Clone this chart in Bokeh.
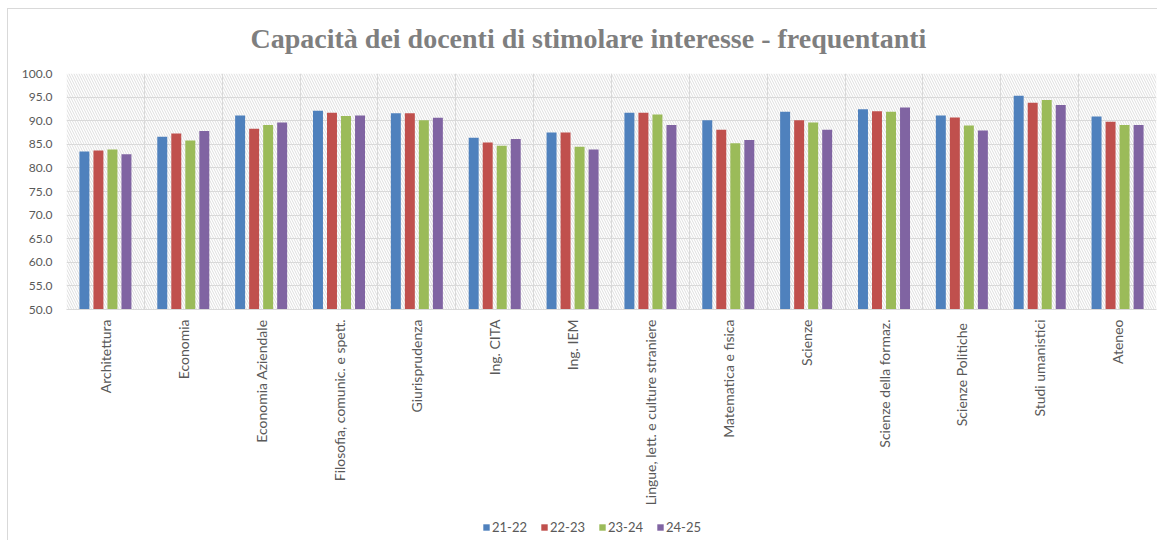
import numpy as np
from bokeh.plotting import figure
from bokeh.layouts import column
from bokeh.models import (ColumnDataSource, FixedTicker, Range1d, Legend, LegendItem,
                          BoxAnnotation, CustomJSTickFormatter)
from bokeh.embed import file_html
from bokeh.resources import INLINE

categories = ["Architettura", "Economia", "Economia Aziendale", "Filosofia, comunic. e spett.",
              "Giurisprudenza", "Ing. CITA", "Ing. IEM", "Lingue, lett. e culture straniere",
              "Matematica e fisica", "Scienze", "Scienze della formaz.", "Scienze  Politiche",
              "Studi umanistici", "Ateneo"]
series_names = ["21-22", "22-23", "23-24", "24-25"]
v_21_22 = [83.5, 86.6, 91.1, 92.1, 91.6, 86.4, 87.5, 91.7, 90.1, 91.9, 92.4, 91.1, 95.3, 90.9]
v_22_23 = [83.7, 87.3, 88.3, 91.7, 91.6, 85.4, 87.5, 91.7, 88.1, 90.1, 92.0, 90.7, 93.8, 89.8]
v_23_24 = [83.9, 85.8, 89.1, 91.0, 90.1, 84.7, 84.5, 91.3, 85.2, 89.6, 91.9, 89.0, 94.4, 89.1]
v_24_25 = [82.9, 87.8, 89.6, 91.1, 90.6, 86.1, 83.9, 89.1, 85.9, 88.1, 92.8, 87.9, 93.3, 89.1]
y_ticks = [50, 55, 60, 65, 70, 75, 80, 85, 90, 95, 100]
colors = ["#4F81BD", "#C0504D", "#9BBB59", "#8064A2"]

series = [v_21_22, v_22_23, v_23_24, v_24_25]
idx = np.arange(len(categories))

p = figure(width=1157, height=515, output_backend="svg", toolbar_location=None,
           x_range=Range1d(0, len(categories)), y_range=Range1d(50, 100),
           min_border_left=66, min_border_right=1, min_border_top=73, min_border_bottom=206)

p.title.text = "Capacità dei docenti di stimolare interesse - frequentanti"
p.title.align = "left"
p.title.offset = 184
p.title.text_font = "Liberation Serif"
p.title.text_font_style = "bold"
p.title.text_font_size = "28px"
p.title.text_color = "#7f7f7f"
p.title.standoff = 40
p.outline_line_color = None
p.background_fill_color = "white"
p.border_fill_color = None

# hatched plot background
p.add_layout(BoxAnnotation(left=0, right=len(categories), bottom=50, top=100,
                           fill_color="white", fill_alpha=1.0, line_color=None,
                           hatch_pattern="\\", hatch_color="#d6d6d6", hatch_scale=5,
                           hatch_weight=0.8, hatch_alpha=1.0, level="image"))

bw = 0.128
step = 0.18
for k, (name, vals, col) in enumerate(zip(series_names, series, colors)):
    src = ColumnDataSource(dict(x=idx + 0.5 + (k - 1.5) * step, top=vals))
    p.vbar(x="x", top="top", bottom=50, width=bw, source=src,
           fill_color=col, line_color=None)

# axes
p.xaxis.ticker = FixedTicker(ticks=list(idx + 0.5))
p.xaxis.major_label_overrides = {float(i + 0.5): c for i, c in enumerate(categories)}
p.xaxis.major_label_orientation = np.pi / 2
p.xaxis.major_label_text_font = "Lato"
p.xaxis.major_label_text_font_size = "14px"
p.xaxis.major_label_text_color = "#595959"
p.xaxis.major_label_standoff = 10
p.xaxis.major_tick_out = 0
p.xaxis.major_tick_in = 0
p.xaxis.axis_line_color = "#d9d9d9"
p.xaxis.major_tick_line_color = None
p.xaxis.minor_tick_line_color = None

p.yaxis.ticker = FixedTicker(ticks=y_ticks)
p.yaxis.formatter = CustomJSTickFormatter(code="return tick.toFixed(1);")
p.yaxis.major_label_text_font = "Lato"
p.yaxis.major_label_text_font_size = "12px"
p.yaxis.major_label_text_color = "#595959"
p.yaxis.major_label_standoff = 14
p.yaxis.major_tick_out = 0
p.yaxis.major_tick_in = 0
p.yaxis.axis_line_color = None
p.yaxis.major_tick_line_color = None
p.yaxis.minor_tick_line_color = None

p.xgrid.ticker = FixedTicker(ticks=list(range(len(categories) + 1)))
p.xgrid.grid_line_color = "#d9d9d9"
p.xgrid.grid_line_width = 1
p.ygrid.ticker = FixedTicker(ticks=y_ticks)
p.ygrid.grid_line_color = "#d9d9d9"
p.ygrid.grid_line_width = 1

# legend strip below the chart (key swatches only; no data drawn here)
leg = figure(width=1157, height=25, output_backend="svg", toolbar_location=None,
             x_range=Range1d(0, 1), y_range=Range1d(0, 1),
             min_border_left=0, min_border_right=0, min_border_top=0, min_border_bottom=0)
leg.axis.visible = False
leg.grid.visible = False
leg.outline_line_color = None
leg.background_fill_color = None
leg.border_fill_color = None
leg_renderers = []
for name, col in zip(series_names, colors):
    key_src = ColumnDataSource(dict(x=[np.nan], top=[np.nan]))
    r = leg.vbar(x="x", top="top", width=0.1, source=key_src, fill_color=col, line_color=None)
    leg_renderers.append(r)
legend = Legend(items=[LegendItem(label=n, renderers=[r], index=0)
                       for n, r in zip(series_names, leg_renderers)],
                orientation="horizontal", location=(416, 5),
                glyph_width=8, glyph_height=8, label_standoff=2, spacing=13,
                padding=0, margin=0, border_line_color=None, background_fill_alpha=0,
                label_text_font="Lato", label_text_font_size="13px",
                label_text_color="#595959", label_height=14)
leg.add_layout(legend, "center")

layout = column(p, leg, spacing=0)
layout.styles = {"background": "linear-gradient(#d9d9d9,#d9d9d9) 7px 8px / 1px 100% no-repeat, "
                               "linear-gradient(#d9d9d9,#d9d9d9) 7px 8px / 100% 1px no-repeat, white"}

open("out.html", "w").write(file_html(layout, INLINE))
